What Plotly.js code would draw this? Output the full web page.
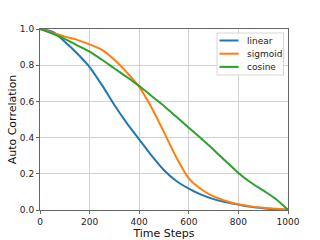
<!DOCTYPE html>
<html>
<head>
<meta charset="utf-8">
<script src="https://cdn.plot.ly/plotly-3.0.1.min.js"></script>
<style>html,body{margin:0;padding:0;background:#fff;}#chart{width:320px;height:240px;}</style>
</head>
<body>
<div id="chart"></div>
<script>
const timeSteps = [0,50,100,150,200,250,300,350,400,450,500,550,600,650,700,750,800,850,900,950,1000];
const linearVals = [1.0,0.985,0.93,0.865,0.79,0.69,0.58,0.48,0.39,0.30,0.22,0.16,0.118,0.085,0.06,0.043,0.03,0.018,0.01,0.004,0.0];
const sigmoidVals = [1.0,0.98,0.958,0.94,0.915,0.885,0.83,0.76,0.68,0.565,0.43,0.29,0.175,0.115,0.075,0.05,0.032,0.02,0.012,0.007,0.004];
const cosineVals = [1.0,0.975,0.945,0.91,0.875,0.83,0.782,0.735,0.685,0.63,0.575,0.515,0.455,0.395,0.333,0.268,0.205,0.152,0.108,0.062,0.0];
const seriesNames = ['linear','sigmoid','cosine'];
const seriesColors = ['#1f77b4','#ff7f0e','#2ca02c'];
const allVals = [linearVals, sigmoidVals, cosineVals];

const traces = allVals.map((v,i)=>({
  x: timeSteps, y: v, type:'scatter', mode:'lines', name: seriesNames[i],
  line:{color: seriesColors[i], width:2, shape:'spline', smoothing:0.8}
}));

// custom legend (matplotlib-like compact box), in paper coordinates
const L = 40, T = 29, W = 248, H = 181;
const px2x = p => (p - L) / W;
const py2y = p => (T + H - p) / H;
const shapes = [{
  type:'rect', xref:'paper', yref:'paper',
  x0:px2x(217), x1:px2x(283.5), y0:py2y(75), y1:py2y(33),
  line:{color:'#d6d6d6', width:1}, fillcolor:'rgba(255,255,255,0.85)', layer:'above'
}];
const annotations = [];
seriesNames.forEach((n,i)=>{
  const yy = 40.5 + i*13.2;
  shapes.push({type:'line', xref:'paper', yref:'paper', x0:px2x(219.5), x1:px2x(238.5),
    y0:py2y(yy), y1:py2y(yy), line:{color:seriesColors[i], width:2}, layer:'above'});
  annotations.push({xref:'paper', yref:'paper', x:px2x(244.5), y:py2y(yy), xanchor:'left', yanchor:'middle',
    text:n, showarrow:false, font:{family:'DejaVu Sans', size:9, color:'#222'}});
});

const axisCommon = {
  showline:true, mirror:true, linecolor:'#666', linewidth:1,
  showgrid:true, gridcolor:'#d0d0d0', gridwidth:1,
  ticks:'outside', ticklen:3, tickcolor:'#666',
  zeroline:false, tickfont:{family:'DejaVu Sans', size:9, color:'#222'}
};

const layout = {
  width:320, height:240,
  margin:{l:L, r:320-L-W, t:T, b:240-T-H},
  paper_bgcolor:'#fff', plot_bgcolor:'#fff',
  showlegend:false,
  shapes: shapes, annotations: annotations,
  xaxis: Object.assign({}, axisCommon, {range:[0,1000], dtick:200, tick0:0,
     title:{text:'Time Steps', font:{family:'DejaVu Sans', size:11, color:'#111'}, standoff:2}}),
  yaxis: Object.assign({}, axisCommon, {range:[0,1], dtick:0.2, tick0:0, tickformat:'.1f',
     title:{text:'Auto Correlation', font:{family:'DejaVu Sans', size:11, color:'#111'}, standoff:1}})
};
Plotly.newPlot('chart', traces, layout, {staticPlot:true, displayModeBar:false});
</script>
</body>
</html>
